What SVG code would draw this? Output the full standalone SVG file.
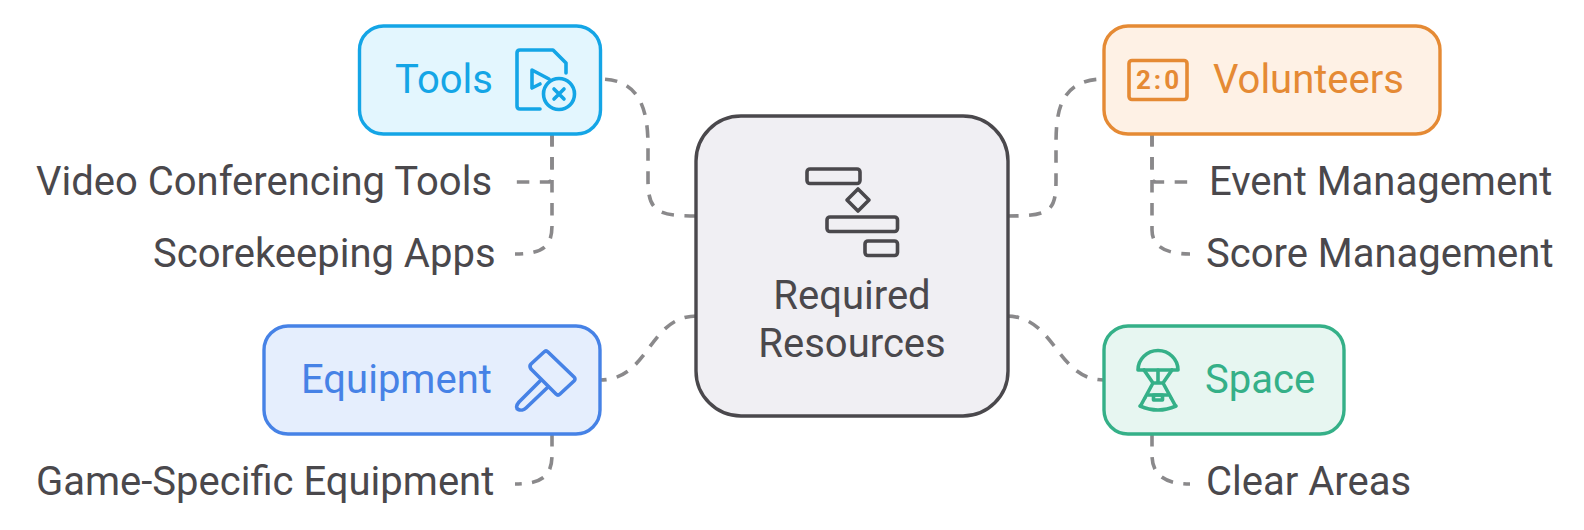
<svg xmlns="http://www.w3.org/2000/svg" width="1584" height="530" viewBox="0 0 1584 530">
<style>
text{font-family:Roboto,"Liberation Sans",sans-serif;font-size:40px;fill:#4a484c}
.c{fill:none;stroke:#8a898b;stroke-width:3.6;stroke-dasharray:12.500 10.500;stroke-linecap:butt}
.b{stroke-width:3.4}
.i{fill:none;stroke-width:3.6;stroke-linejoin:round;stroke-linecap:round}
.blue{stroke:#14a5e6}.bluet{fill:#14a5e6}
.org{stroke:#e58a34}.orgt{fill:#e58a34}
.grn{stroke:#35b088}.grnt{fill:#35b088}
.ind{stroke:#4682e6}.indt{fill:#4682e6}
</style>
<rect width="1584" height="530" fill="#fff"/>
<g id="connectors">
<path class="c" d="M697 216C658 216 648 212 648 180V146C648 110 640 79 600 79"/>
<path class="c" d="M552 134V225C552 245 545 254 515 254"/>
<path class="c" d="M552 134V178Q552 182 548 182H515"/>
<path class="c" d="M600 380C650 380 648 316 697 316" stroke-dashoffset="6"/>
<path class="c" d="M552 434V455C552 476 542 484 515 484"/>
<path class="c" d="M1006 216C1050 216 1056 212 1056 180V146C1056 115 1058 79 1104 79"/>
<path class="c" d="M1152 134V230C1152 246 1165 254 1190 254"/>
<path class="c" d="M1152 134V178Q1152 182 1156 182H1190"/>
<path class="c" d="M1104 380C1056 380 1056 316 1006 316" stroke-dashoffset="6"/>
<path class="c" d="M1152 434V455C1152 475 1165 484 1190 484"/>
</g>
<g id="center">
<rect x="696" y="116" width="312" height="300" rx="45" fill="#f0eff3" stroke="#4a484c" stroke-width="3.4"/>
<g class="i" stroke="#4a484c">
<rect x="807" y="169" width="53" height="14.500" rx="3"/>
<rect x="827" y="217" width="70.500" height="14.500" rx="3"/>
<rect x="865" y="241" width="32.500" height="14.500" rx="3"/>
<path d="M858 189L869 200L858 211L847 200Z"/>
</g>
<text x="852" y="309" text-anchor="middle">Required</text>
<text x="852" y="357" text-anchor="middle">Resources</text>
</g>
<g id="tools">
<rect class="b blue" x="359.500" y="26" width="241" height="108" rx="24" fill="#e3f6fe"/>
<text class="bluet" x="395" y="93">Tools</text>
<g class="i blue">
<path d="M540 109H520Q517 109 517 106V53Q517 50 520 50H553L566 63V73"/>
<path d="M540 84L532 88V70L549 79"/>
<circle cx="559" cy="94" r="15.500"/>
<path d="M554 89L564 99M564 89L554 99"/>
</g>
</g>
<g id="video-conferencing"><text x="36" y="195">Video Conferencing Tools</text></g>
<g id="scorekeeping"><text x="153" y="267">Scorekeeping Apps</text></g>
<g id="equipment">
<rect class="b ind" x="264" y="326" width="336" height="108" rx="24" fill="#e5eefd"/>
<text class="indt" x="301" y="393">Equipment</text>
<g class="i ind">
<path d="M531 364L544 352Q546 350 548 352L574 377Q576 379 574 381L560 394Q558 396 556 394L531 369Q529 366 531 364Z"/>
<path d="M541 380L519 402C512 410 522 412 526 408L548 387"/>
</g>
</g>
<g id="game-specific"><text x="36" y="495">Game-Specific Equipment</text></g>
<g id="volunteers">
<rect class="b org" x="1104" y="26" width="336" height="108" rx="24" fill="#fef1e5"/>
<text class="orgt" x="1213" y="93">Volunteers</text>
<rect class="i org" x="1129" y="60.500" width="58" height="39" rx="3"/>
<text class="orgt" x="1159" y="89" text-anchor="middle" letter-spacing="3" style="font-size:26px;font-weight:700">2:0</text>
</g>
<g id="event"><text x="1209" y="195">Event Management</text></g>
<g id="score"><text x="1206" y="267">Score Management</text></g>
<g id="space">
<rect class="b grn" x="1104" y="326" width="240" height="108" rx="24" fill="#e7f6f1"/>
<text class="grnt" x="1205" y="393">Space</text>
<g class="i grn">
<path d="M1138 370A20 19.500 0 0 1 1178 370Z"/>
<path d="M1144 370L1153 383L1141 405M1172 370L1163 383L1175 405M1153 383H1163M1158 370V383"/>
<path d="M1148 395H1168M1140 406Q1158 414 1176 406"/>
<rect x="1153.500" y="395" width="9" height="5"/>
</g>
<g class="grnt"><circle cx="1145" cy="398" r="1.500"/><circle cx="1171" cy="398" r="1.500"/></g>
</g>
<g id="clear"><text x="1206" y="495">Clear Areas</text></g>
</svg>
